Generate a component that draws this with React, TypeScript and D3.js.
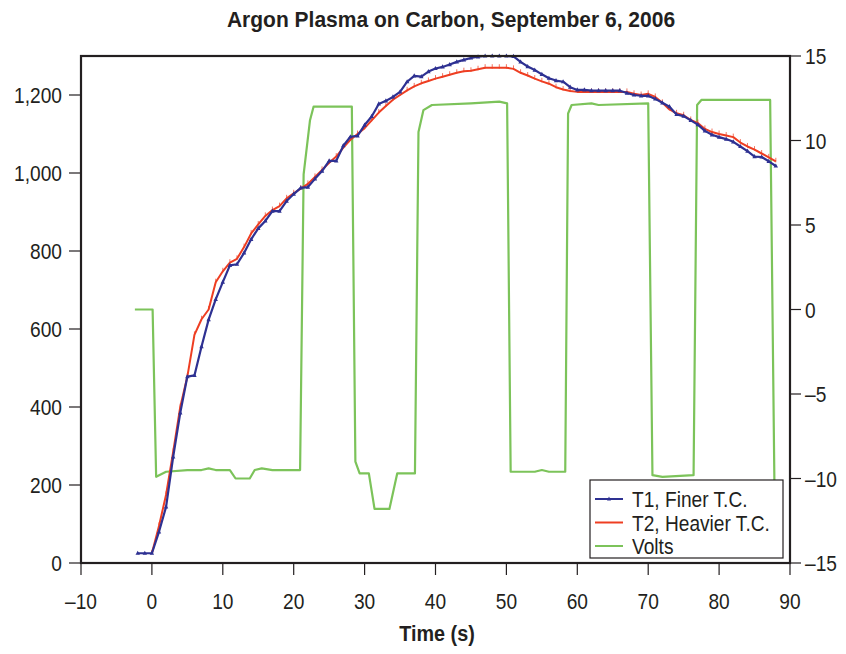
import React from "react";
import * as d3 from "d3";

// ---- data ----
const t1Time = [-2,-1,0,1,2,3,4,5,6,7,8,9,10,11,12,13,14,15,16,17,18,19,20,21,22,23,24,25,26,27,28,29,30,31,32,33,34,35,36,37,38,39,40,41,42,43,44,45,46,47,48,49,50,51,52,53,54,55,56,57,58,59,60,61,62,63,64,65,66,67,68,69,70,71,72,73,74,75,76,77,78,79,80,81,82,83,84,85,86,87,88];
const t1Values = [25,25,25,80,144,272,385,478,481,555,624,676,720,763,766,795,830,858,877,902,902,928,946,962,964,985,1005,1031,1031,1070,1093,1095,1123,1145,1177,1185,1195,1208,1234,1249,1247,1260,1268,1272,1278,1285,1290,1295,1298,1300,1300,1300,1300,1299,1285,1273,1264,1253,1243,1237,1234,1220,1213,1213,1211,1211,1211,1211,1211,1205,1200,1198,1198,1190,1180,1170,1150,1146,1135,1124,1108,1098,1092,1087,1080,1068,1056,1042,1041,1030,1018];

const t2Time = [0,1,2,3,4,5,6,7,8,9,10,11,12,13,14,15,16,17,18,19,20,21,22,23,24,25,26,27,28,29,30,31,32,33,34,35,36,37,38,39,40,41,42,43,44,45,46,47,48,49,50,51,52,53,54,55,56,57,58,59,60,61,62,63,64,65,66,67,68,69,70,71,72,73,74,75,76,77,78,79,80,81,82,83,84,85,86,87,88];
const t2Values = [25,95,175,285,400,478,585,625,650,720,748,770,780,810,845,868,890,905,915,935,948,960,972,990,1008,1026,1042,1065,1085,1100,1115,1135,1155,1172,1188,1200,1212,1222,1230,1236,1242,1247,1252,1257,1261,1262,1266,1270,1270,1270,1270,1267,1257,1250,1242,1235,1229,1220,1214,1210,1208,1208,1208,1208,1208,1208,1208,1208,1203,1200,1203,1195,1180,1163,1153,1148,1136,1128,1113,1105,1100,1096,1092,1078,1068,1060,1050,1040,1030];

const voltTime = [-2.4,0.1,0.6,2,5,7,8,9,11,11.8,13.8,14.5,15.5,17,20.9,21.4,22.3,22.8,28.2,28.7,29.3,30.6,31.4,33.5,34.6,37.1,37.6,38.3,39.5,45,49,50.1,50.6,54,55,56,58.3,58.7,59.2,62,63,70,70.6,72,76.4,76.9,77.5,87.2,87.8];
const voltValues = [0,0,-9.9,-9.6,-9.5,-9.5,-9.4,-9.5,-9.5,-10.0,-10.0,-9.5,-9.4,-9.5,-9.5,8,11.2,12.0,12.0,-9.0,-9.7,-9.7,-11.8,-11.8,-9.7,-9.7,10.5,11.8,12.1,12.2,12.3,12.2,-9.6,-9.6,-9.5,-9.6,-9.6,11.6,12.1,12.2,12.1,12.2,-9.8,-9.9,-9.8,12.1,12.4,12.4,-10.2];

const xTicks = [-10,0,10,20,30,40,50,60,70,80,90];
const yLeftTicks = [0,200,400,600,800,1000,1200];
const yRightTicks = [-15,-10,-5,0,5,10,15];
const seriesNames = ["T1, Finer T.C.", "T2, Heavier T.C.", "Volts"];

const title = "Argon Plasma on Carbon, September 6, 2006";
const xTitle = "Time (s)";

const BLUE = "#2e3192";
const RED = "#ee3e22";
const GREEN = "#7cc35a";
const INK = "#231f20";
const FONT = "'Liberation Sans', Arial, sans-serif";

const fmtMinus = (v: number, s: string) => (v < 0 ? "\u2013" + s.replace("-", "") : s);

function T(props: { x: number; y: number; anchor?: string; size: number; sx: number; bold?: boolean; children: React.ReactNode }) {
  const { x, y, anchor = "start", size, sx, bold, children } = props;
  return (
    <g transform={`translate(${x},${y}) scale(${sx},1)`}>
      <text x={0} y={0} textAnchor={anchor as any} fontSize={size} fontWeight={bold ? "bold" : "normal"} fill={INK}>{children}</text>
    </g>
  );
}

export default function App() {
  const W = 846, H = 654;
  const left = 81, right = 790, top = 56, bottom = 563;

  const x = d3.scaleLinear().domain([-10, 90]).range([left, right]);
  const yL = d3.scaleLinear().domain([0, 1300]).range([bottom, top]);
  const yR = d3.scaleLinear().domain([-15, 15]).range([bottom, top]);

  const t1 = t1Time.map((t, i) => [t, t1Values[i]] as [number, number]);
  const t2 = t2Time.map((t, i) => [t, t2Values[i]] as [number, number]);
  const vv = voltTime.map((t, i) => [t, voltValues[i]] as [number, number]);

  const lineL = d3.line<[number, number]>().x(d => x(d[0])).y(d => yL(d[1]));
  const lineR = d3.line<[number, number]>().x(d => x(d[0])).y(d => yR(d[1]));

  const fmtComma = d3.format(",");
  const SX = 0.87;

  return (
    <svg width={W} height={H} style={{ display: "block", position: "absolute", left: 0, top: 0, background: "#fff" }} fontFamily={FONT}>
      <T x={451} y={27} anchor="middle" size={22} sx={0.955} bold>{title}</T>

      {/* Volts */}
      <path d={lineR(vv) || ""} fill="none" stroke={GREEN} strokeWidth={2.2} strokeLinejoin="round" />
      {/* T2 */}
      <path d={lineL(t2) || ""} fill="none" stroke={RED} strokeWidth={2} strokeLinejoin="round" />
      {t2.map((d, i) => (
        <line key={"r" + i} x1={x(d[0])} x2={x(d[0])} y1={yL(d[1]) - 3.5} y2={yL(d[1]) + 1} stroke={RED} strokeWidth={0.9} opacity={0.8} />
      ))}
      {/* T1 */}
      <path d={lineL(t1) || ""} fill="none" stroke={BLUE} strokeWidth={2.2} strokeLinejoin="round" />
      {t1.map((d, i) => {
        const cx = x(d[0]), cy = yL(d[1]);
        return <path key={"b" + i} d={`M${cx},${cy - 2.6}L${cx + 2.2},${cy + 1.6}L${cx - 2.2},${cy + 1.6}Z`} fill={BLUE} />;
      })}

      {/* frame */}
      <rect x={left} y={top} width={right - left} height={bottom - top} fill="none" stroke={INK} strokeWidth={2.2} />

      {/* x axis */}
      {xTicks.map(t => (
        <g key={"x" + t}>
          <line x1={x(t)} x2={x(t)} y1={bottom} y2={bottom + 12} stroke={INK} strokeWidth={1.2} />
          <T x={x(t)} y={609} anchor="middle" size={22} sx={SX}>{fmtMinus(t, String(t))}</T>
        </g>
      ))}
      <T x={437} y={641} anchor="middle" size={22} sx={0.9} bold>{xTitle}</T>

      {/* left axis */}
      {yLeftTicks.map(t => (
        <g key={"yl" + t}>
          <line x1={left - 12} x2={left} y1={yL(t)} y2={yL(t)} stroke={INK} strokeWidth={1.2} />
          <T x={62} y={yL(t) + 8} anchor="end" size={22} sx={SX}>{fmtComma(t)}</T>
        </g>
      ))}

      {/* right axis */}
      {yRightTicks.map(t => (
        <g key={"yr" + t}>
          <line x1={right} x2={right + 11} y1={yR(t)} y2={yR(t)} stroke={INK} strokeWidth={1.2} />
          <T x={805} y={yR(t) + 8} size={22} sx={SX}>{fmtMinus(t, String(t))}</T>
        </g>
      ))}

      {/* legend */}
      <rect x={590} y={480} width={193} height={78} fill="#fff" stroke={INK} strokeWidth={1.2} />
      {seriesNames.map((n, i) => {
        const ly = 499 + i * 23.5;
        const col = [BLUE, RED, GREEN][i];
        return (
          <g key={"lg" + i}>
            <line x1={595} x2={623} y1={ly} y2={ly} stroke={col} strokeWidth={2} />
            {i === 0 && <path d={`M609,${ly - 2.4}L611,${ly + 1.4}L607,${ly + 1.4}Z`} fill={BLUE} />}
            <T x={632} y={ly + 8} size={22} sx={SX}>{n}</T>
          </g>
        );
      })}
    </svg>
  );
}
